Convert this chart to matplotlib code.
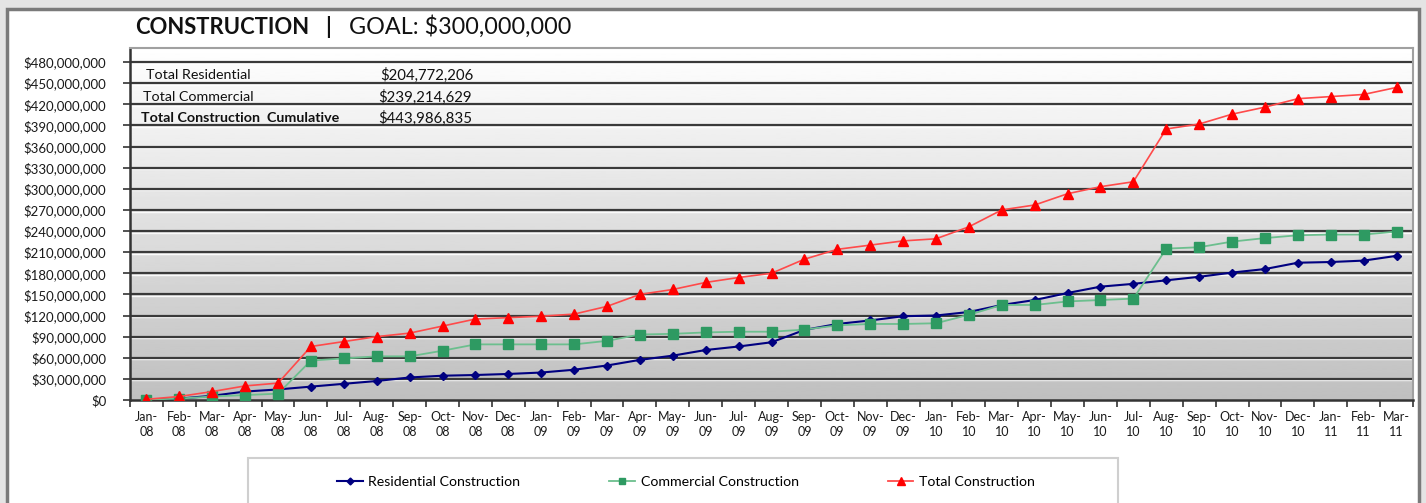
import numpy as np
import matplotlib
matplotlib.use("Agg")
import matplotlib.pyplot as plt
import matplotlib.ticker as ticker
from matplotlib import transforms
from matplotlib.patches import Rectangle
from matplotlib.lines import Line2D

plt.rcParams['font.family'] = ['Lato', 'DejaVu Sans']

# months Jan-08 .. Mar-11
months = ['Jan-\n08', 'Feb-\n08', 'Mar-\n08', 'Apr-\n08', 'May-\n08', 'Jun-\n08', 'Jul-\n08', 'Aug-\n08',
          'Sep-\n08', 'Oct-\n08', 'Nov-\n08', 'Dec-\n08',
          'Jan-\n09', 'Feb-\n09', 'Mar-\n09', 'Apr-\n09', 'May-\n09', 'Jun-\n09', 'Jul-\n09', 'Aug-\n09',
          'Sep-\n09', 'Oct-\n09', 'Nov-\n09', 'Dec-\n09',
          'Jan-\n10', 'Feb-\n10', 'Mar-\n10', 'Apr-\n10', 'May-\n10', 'Jun-\n10', 'Jul-\n10', 'Aug-\n10',
          'Sep-\n10', 'Oct-\n10', 'Nov-\n10', 'Dec-\n10',
          'Jan-\n11', 'Feb-\n11', 'Mar-\n11']

# values in millions of dollars (cumulative)
residential = [0.5, 2, 6, 12, 15, 19, 23, 27, 32, 34.5, 35.5, 37,
               39, 43, 49, 57, 63, 71, 76, 82, 99.5, 108, 113, 119,
               120, 125, 135, 142, 152, 161, 165, 170, 175, 181, 186, 195,
               196, 198, 204.77]
commercial = [0.5, 2, 5, 7, 9, 56, 59, 62, 62, 70, 79, 79,
              79, 79, 84, 93, 94, 96, 97, 97, 100, 106, 108, 108,
              109, 121, 135, 135, 140, 142, 144, 215, 217, 225, 230, 234,
              235, 235, 239.21]
total = [1, 5, 12, 20, 24, 76, 83, 90, 95, 105, 115, 117,
         119, 122, 133, 150, 157, 167, 174, 180, 200, 214, 220, 226,
         229, 246, 270, 277, 293, 303, 310, 385, 392, 406, 416, 428,
         431, 434, 443.99]

summary_labels = ['Total Residential', 'Total Commercial', 'Total Construction  Cumulative']
summary_values = ['$204,772,206', '$239,214,629', '$443,986,835']

W, H = 1426, 503


def fx(px):
    return px / W


def fy(py):
    return 1 - py / H


fig = plt.figure(figsize=(W / 100, H / 100), dpi=100)
fig.patch.set_facecolor('#e4e4e4')

# white panel with grey frame
fig.patches.append(Rectangle((fx(7), -0.05), fx(1419) - fx(7), fy(9) + 0.05, transform=fig.transFigure,
                             facecolor='white', edgecolor='#7a7a7a', lw=2.5, zorder=-5))

ax = fig.add_axes([fx(130), fy(400), fx(1413) - fx(130), fy(48) - fy(400)])
ax.set_zorder(2)
ax.grid(False, which='both')
x = np.arange(len(months))
ymax = 500e6
ax.set_xlim(-0.5, len(months) - 0.5)
ax.set_ylim(0, ymax)

# grey gradient background
grad = np.linspace(1.0, 0.75, 256)[:, None]
ax.imshow(grad, extent=[-0.5, len(months) - 0.5, 0, ymax], aspect='auto', cmap='gray',
          vmin=0, vmax=1, zorder=0, origin='upper', interpolation='bilinear')

yticks = np.arange(0, 480e6 + 1, 30e6)
hl = transforms.offset_copy(ax.transData, fig=fig, x=0, y=-1.6, units='dots')
ax.hlines(yticks[1:], -0.5, len(months) - 0.5, colors='white', lw=1.0, alpha=0.9, transform=hl, zorder=1)
ax.hlines(yticks[1:], -0.5, len(months) - 0.5, colors='#3a3a3a', lw=1.6, zorder=1)

res = np.array(residential) * 1e6
com = np.array(commercial) * 1e6
tot = np.array(total) * 1e6

l1, = ax.plot(x, res, color='#000080', lw=1.5, marker='D', ms=4.5, mfc='#000080', mec='#000080', zorder=3)
l2, = ax.plot(x, com, color='#6cbf8e', lw=1.3, marker='s', ms=7, mfc='#2e9a62', mec='#2e9a62', zorder=3)
l3, = ax.plot(x, tot, color='#ff4a4a', lw=1.2, marker='^', ms=7.5, mfc='#ff0000', mec='#ff0000', zorder=4)

ax.set_yticks(yticks)
ax.yaxis.set_major_formatter(ticker.FuncFormatter(lambda v, p: f'${v:,.0f}'))
ax.set_xticks(x)
ax.set_xticklabels(months)
ax.set_xticks(np.arange(-0.5, len(months)), minor=True)
ax.tick_params(axis='x', which='major', length=0, pad=8, labelsize=9, labelcolor='#1a1a1a')
ax.tick_params(axis='x', which='minor', length=5, width=1.2, color='#333333', direction='out')
ax.tick_params(axis='y', length=5, width=1.2, color='#333333', labelsize=9.5, labelcolor='#1a1a1a', pad=12)
for lbl in ax.get_xticklabels():
    lbl.set_linespacing(1.25)

for s in ['left', 'bottom']:
    ax.spines[s].set_color('#333333')
    ax.spines[s].set_linewidth(1.8)
for s in ['top', 'right']:
    ax.spines[s].set_color('#a0a0a0')
    ax.spines[s].set_linewidth(1.5)

# title
fig.text(fx(135), fy(27), 'CONSTRUCTION', fontsize=15.8, fontweight='bold', va='center', ha='left', color='#111111')
fig.text(fx(325), fy(27), '|', fontsize=15.8, fontweight='bold', va='center', ha='left', color='#111111')
fig.text(fx(349), fy(27), 'GOAL: $300,000,000', fontsize=16.8, va='center', ha='left', color='#111111')

# summary table on the chart
row_y = [75, 97, 118]
label_x = [146, 143, 141]
value_x = [380, 378, 378]
for i in range(3):
    fig.text(fx(label_x[i]), fy(row_y[i]), summary_labels[i], fontsize=10.3, va='center', ha='left',
             fontweight='bold' if i == 2 else 'normal', color='#111111', zorder=5)
    fig.text(fx(value_x[i]), fy(row_y[i]), summary_values[i], fontsize=10.8, va='center', ha='left',
             color='#111111', zorder=5)

# legend box
fig.patches.append(Rectangle((fx(248), -0.05), fx(1118) - fx(248), fy(458) + 0.05, transform=fig.transFigure,
                             facecolor='white', edgecolor='#cfcfcf', lw=1.5, zorder=1))
handles = [Line2D([], [], color='#000080', lw=1.5, marker='D', ms=3.5, mfc='#000080', mec='#000080'),
           Line2D([], [], color='#6cbf8e', lw=1.3, marker='s', ms=5, mfc='#2e9a62', mec='#2e9a62'),
           Line2D([], [], color='#ff4a4a', lw=1.3, marker='^', ms=5.5, mfc='#ff0000', mec='#ff0000')]
fig.legend(handles, ['Residential Construction', 'Commercial Construction', 'Total Construction'],
           loc='center', bbox_to_anchor=(fx(686), fy(482)), ncol=3, frameon=False, fontsize=10.2,
           handlelength=1.8, handletextpad=0.4, columnspacing=6.3)

fig.savefig('out.png', dpi=100, facecolor=fig.get_facecolor())
